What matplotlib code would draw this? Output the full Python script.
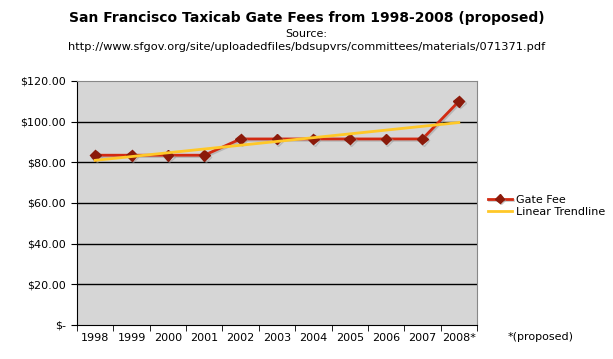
import numpy as np
import matplotlib.pyplot as plt
import matplotlib.patheffects as pe

years = ['1998', '1999', '2000', '2001', '2002', '2003', '2004', '2005', '2006', '2007', '2008*']
gate_fee = [83.50, 83.50, 83.50, 83.50, 91.50, 91.50, 91.50, 91.50, 91.50, 91.50, 110.00]
yticks = [0, 20, 40, 60, 80, 100, 120]

x = np.arange(len(years))
coef = np.polyfit(x, gate_fee, 1)  # linear trendline
trend = np.polyval(coef, x)

fig = plt.figure(figsize=(6.13, 3.59), dpi=100)
ax = fig.add_axes([77/613, 34/359, 400/613, 244/359])
ax.set_facecolor('#d6d6d6')

shadow = [pe.SimpleLineShadow(offset=(1, -1), shadow_color='#999999', alpha=0.5), pe.Normal()]
ax.plot(x, gate_fee, color='#d22a12', lw=2, marker='D', ms=5.5, mfc='#8b1a0a', mec='#8b1a0a',
        label='Gate Fee', path_effects=shadow, zorder=4)
ax.plot(x, trend, color='#ffc828', lw=2, label='Linear Trendline', zorder=5)

ax.set_xlim(-0.5, len(years) - 0.5)
ax.set_ylim(0, 120)
ax.set_yticks(yticks)
ax.set_yticklabels(['$-' if v == 0 else f'${v:.2f}' for v in yticks], fontsize=8)
ax.set_xticks(x)
ax.set_xticklabels(years, fontsize=8)
ax.set_xticks(np.arange(-0.5, len(years), 1), minor=True)
ax.tick_params(axis='x', which='major', length=0, pad=6)
ax.tick_params(axis='x', which='minor', length=4, direction='out')
ax.tick_params(axis='y', length=4, direction='out', pad=4)
for v in yticks[1:-1]:
    ax.axhline(v, color='black', lw=1, zorder=1)
for s in ['top', 'right']:
    ax.spines[s].set_color('#888888')
for s in ['left', 'bottom']:
    ax.spines[s].set_color('black')

fig.text(0.5, 1 - 18/359, 'San Francisco Taxicab Gate Fees from 1998-2008 (proposed)',
         ha='center', va='center', fontsize=10, fontweight='bold')
fig.text(0.5, 1 - 34/359, 'Source:', ha='center', va='center', fontsize=8)
fig.text(0.5, 1 - 47/359, 'http://www.sfgov.org/site/uploadedfiles/bdsupvrs/committees/materials/071371.pdf',
         ha='center', va='center', fontsize=8.2)
fig.text(508/613, 1 - 337/359, '*(proposed)', ha='left', va='center', fontsize=8)

leg = fig.legend(loc='upper left', bbox_to_anchor=(482/613, 1 - 189/359), frameon=False, fontsize=8,
                 handlelength=2.2, handletextpad=0.4, labelspacing=0.25, borderpad=0, markerscale=0.8)

fig.savefig('out.png', dpi=100)
